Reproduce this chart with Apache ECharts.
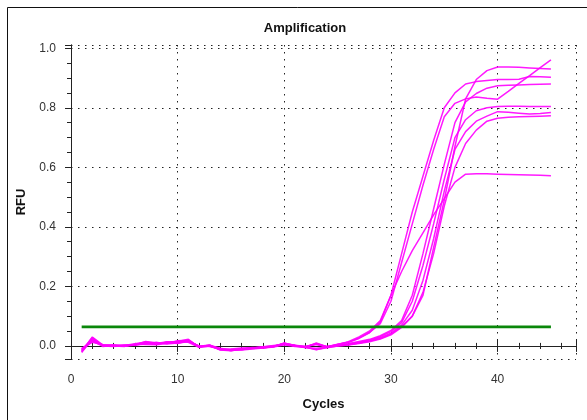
<!DOCTYPE html>
<html>
<head>
<meta charset="utf-8">
<script src="https://cdn.jsdelivr.net/npm/echarts@6/dist/echarts.min.js"></script>
<style>
html,body{margin:0;padding:0;background:#fff;}
#chart{width:587px;height:420px;}
</style>
</head>
<body>
<div id="chart"></div>
<script>
// ---- data ----
const cycles = [1,2,3,4,5,6,7,8,9,10,11,12,13,14,15,16,17,18,19,20,21,22,23,24,25,26,27,28,29,30,31,32,33,34,35,36,37,38,39,40,41,42,43,44,45];

const wellA = [-0.02,0.03,0.003,0.001,0.0,0.005,0.012,0.008,0.014,0.012,0.02,-0.003,0.001,-0.012,-0.015,-0.012,-0.009,-0.006,-0.002,0.009,0.001,-0.003,0.008,-0.004,0.005,0.014,0.03,0.05,0.085,0.17,0.31,0.45,0.57,0.69,0.80,0.85,0.88,0.888,0.892,0.895,0.895,0.896,0.905,0.904,0.903];
const wellB = [-0.012,0.022,0.0,-0.002,0.002,0.003,0.015,0.01,0.01,0.016,0.012,-0.005,0.0,-0.014,-0.016,-0.01,-0.007,-0.004,0.0,0.007,0.002,-0.005,0.01,-0.003,0.006,0.012,0.026,0.045,0.075,0.15,0.28,0.41,0.54,0.66,0.77,0.815,0.83,0.836,0.832,0.829,0.855,0.882,0.908,0.935,0.961];
const wellC = [-0.008,0.012,0.004,0.0,-0.002,0.006,0.005,0.004,0.008,0.014,0.016,0.0,-0.002,-0.01,-0.012,-0.014,-0.01,-0.007,-0.004,0.004,-0.002,-0.004,-0.012,-0.006,0.0,0.004,0.01,0.016,0.025,0.04,0.065,0.10,0.17,0.33,0.49,0.67,0.83,0.895,0.925,0.937,0.937,0.936,0.934,0.932,0.93];
const wellD = [-0.018,0.018,-0.002,0.002,0.001,0.002,0.01,0.006,0.012,0.01,0.018,-0.002,0.002,-0.008,-0.014,-0.009,-0.005,-0.006,-0.002,0.008,0.0,-0.002,0.005,-0.005,0.003,0.008,0.015,0.022,0.034,0.052,0.085,0.17,0.31,0.46,0.61,0.75,0.82,0.848,0.866,0.874,0.876,0.877,0.878,0.879,0.88];
const wellE = [-0.01,0.015,0.002,0.003,0.0,0.006,0.008,0.012,0.006,0.01,0.014,0.0,-0.001,-0.011,-0.01,-0.007,-0.008,-0.003,0.001,0.005,0.001,-0.006,-0.008,-0.004,0.001,0.006,0.012,0.02,0.031,0.048,0.078,0.15,0.27,0.41,0.56,0.70,0.76,0.79,0.80,0.804,0.805,0.805,0.804,0.804,0.804];
const wellF = [-0.022,0.025,0.001,-0.001,0.003,0.004,0.011,0.005,0.013,0.015,0.022,-0.004,0.0,-0.009,-0.016,-0.011,-0.006,-0.005,-0.003,0.01,-0.001,-0.003,0.006,-0.002,0.002,0.005,0.01,0.017,0.028,0.043,0.07,0.12,0.22,0.36,0.52,0.66,0.72,0.755,0.772,0.787,0.785,0.782,0.779,0.781,0.784];
const wellG = [-0.014,0.02,0.003,0.001,-0.001,0.003,0.006,0.009,0.011,0.008,0.017,-0.001,0.003,-0.013,-0.012,-0.013,-0.007,-0.004,-0.001,0.006,0.0,-0.005,-0.013,-0.005,0.0,0.003,0.008,0.014,0.023,0.037,0.062,0.10,0.18,0.31,0.47,0.60,0.68,0.725,0.755,0.765,0.768,0.77,0.771,0.772,0.773];
const wellH = [-0.016,0.028,0.0,0.002,0.001,0.007,0.013,0.01,0.009,0.017,0.019,-0.003,0.002,-0.012,-0.014,-0.01,-0.008,-0.007,-0.002,0.009,0.002,-0.002,0.007,-0.003,0.005,0.012,0.025,0.045,0.08,0.17,0.25,0.32,0.38,0.44,0.495,0.55,0.577,0.578,0.578,0.577,0.576,0.575,0.574,0.573,0.572];

const wells = [wellA, wellB, wellC, wellD, wellE, wellF, wellG, wellH];

const thresholdValue = 0.064;
const thresholdCycles = [1, 45];

const xTickLabels = ['0','10','20','30','40'];
const yTickLabels = ['0.0','0.2','0.4','0.6','0.8','1.0'];

// ---- chart ----
const FONT = 'Liberation Sans, Arial, sans-serif';
const chart = echarts.init(document.getElementById('chart'), null, {renderer: 'canvas'});

const dotted = {show: true, lineStyle: {color: '#222', width: 1, type: [1.5, 5.5]}};

const series = wells.map(function (w) {
  return {
    type: 'line',
    xAxisIndex: 0, yAxisIndex: 0,
    data: cycles.map(function (c, i) { return [c, w[i]]; }),
    showSymbol: false,
    symbol: 'none',
    lineStyle: {color: '#ff00ff', width: 1.5, opacity: 0.9},
    silent: true,
    z: 3
  };
});
series.push({
  type: 'line',
  xAxisIndex: 0, yAxisIndex: 0,
  data: thresholdCycles.map(function (c) { return [c, thresholdValue]; }),
  showSymbol: false,
  symbol: 'none',
  lineStyle: {color: '#0a870a', width: 2.6},
  silent: true,
  z: 4
});

function xLabel(v) {
  const s = String(Math.round(v));
  return (Math.abs(v - Math.round(v)) < 1e-6 && xTickLabels.indexOf(s) >= 0) ? s : '';
}
function yLabel(v) {
  const s = v.toFixed(1);
  return (Math.abs(v * 5 - Math.round(v * 5)) < 1e-6 && yTickLabels.indexOf(s) >= 0) ? s : '';
}

const xBase = {type: 'value', min: 0, max: 47.35, interval: 10, gridIndex: 0};
const yBase = {type: 'value', min: -0.044, max: 1.011, splitNumber: 5, gridIndex: 0};
const nameStyle = {fontFamily: FONT, fontSize: 13, fontWeight: 'bold', color: '#111'};

chart.setOption({
  animation: false,
  backgroundColor: '#fff',
  title: {
    text: 'Amplification',
    left: 300, top: 17, textAlign: 'center',
    textStyle: nameStyle
  },
  grid: {left: 71, right: 11, top: 45, bottom: 61, containLabel: false},
  xAxis: [
    Object.assign({}, xBase, {
      position: 'bottom',
      name: 'Cycles', nameLocation: 'middle', nameGap: 39,
      nameTextStyle: nameStyle,
      axisLine: {show: true, lineStyle: {color: '#222', width: 1}},
      axisTick: {show: true, inside: false, length: 6, lineStyle: {color: '#222'}},
      minorTick: {show: true, splitNumber: 5, length: 3, lineStyle: {color: '#222'}},
      axisLabel: {show: true, margin: 15, fontFamily: FONT, fontSize: 12, color: '#333', formatter: xLabel, showMaxLabel: false},
      splitLine: dotted
    }),
    Object.assign({}, xBase, {
      position: 'bottom',
      axisLine: {show: true, lineStyle: {color: '#222', width: 1}},
      axisTick: {show: true, inside: true, length: 6, lineStyle: {color: '#222'}},
      minorTick: {show: true, splitNumber: 5, length: 3, lineStyle: {color: '#222'}},
      axisLabel: {show: false},
      splitLine: {show: false}
    }),
    Object.assign({}, xBase, {
      position: 'top',
      axisLine: {show: true, lineStyle: {color: '#222', width: 1}},
      axisTick: {show: true, inside: true, length: 5, lineStyle: {color: '#222'}},
      minorTick: {show: true, splitNumber: 5, length: 3, lineStyle: {color: '#222'}},
      axisLabel: {show: false},
      splitLine: {show: false}
    })
  ],
  yAxis: [
    Object.assign({}, yBase, {
      position: 'left',
      name: 'RFU', nameLocation: 'middle', nameGap: 37, nameRotate: 90,
      nameTextStyle: nameStyle,
      axisLine: {show: true, lineStyle: {color: '#222', width: 1}},
      axisTick: {show: true, inside: false, length: 6, lineStyle: {color: '#222'}},
      minorTick: {show: true, splitNumber: 4, length: 3, lineStyle: {color: '#222'}},
      axisLabel: {show: true, margin: 15, fontFamily: FONT, fontSize: 12, color: '#333', formatter: yLabel},
      splitLine: dotted
    }),
    Object.assign({}, yBase, {
      position: 'left',
      axisLine: {show: false},
      axisTick: {show: false},
      minorTick: {show: true, splitNumber: 4, length: 3, lineStyle: {color: '#222'}},
      axisLabel: {show: false},
      splitLine: {show: false}
    }),
    Object.assign({}, yBase, {
      position: 'right',
      axisLine: {show: true, lineStyle: {color: '#222', width: 1}},
      axisTick: {show: true, inside: true, length: 4, lineStyle: {color: '#222'}},
      minorTick: {show: true, splitNumber: 4, length: 4, lineStyle: {color: '#222'}},
      axisLabel: {show: false},
      splitLine: {show: false}
    })
  ],
  graphic: [{
    type: 'rect',
    silent: true,
    shape: {x: 7.5, y: 7.5, width: 700, height: 500},
    style: {fill: 'none', stroke: '#111', lineWidth: 1},
    z: 0
  }],
  series: series
});
</script>
</body>
</html>
